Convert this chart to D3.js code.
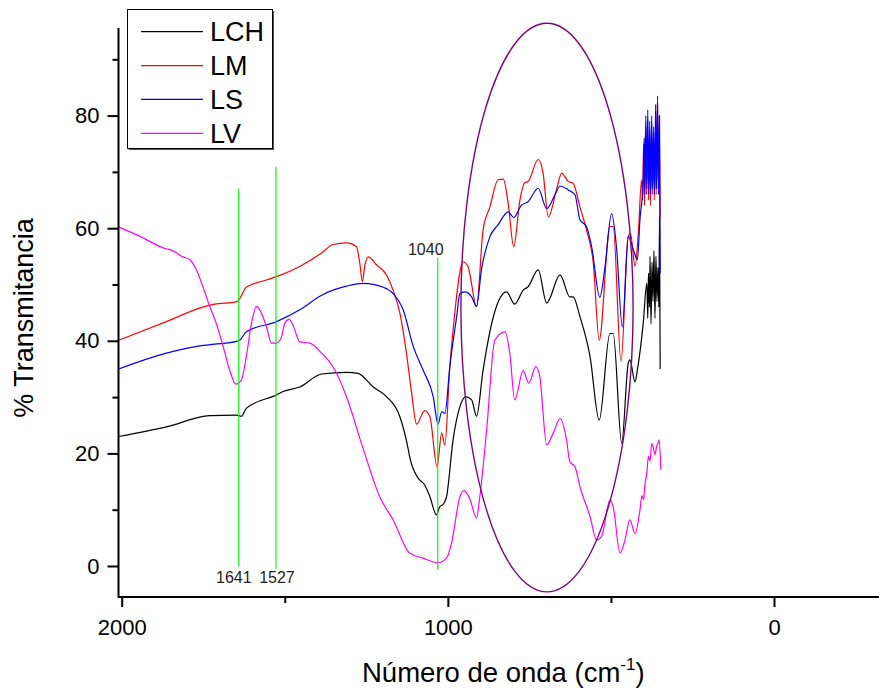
<!DOCTYPE html>
<html>
<head>
<meta charset="utf-8">
<script src="https://cdn.jsdelivr.net/npm/d3@7"></script>
<style>
  body { margin: 0; background: #fff; }
  svg { font-family: "Liberation Sans", Arial, sans-serif; }
</style>
</head>
<body>
<div id="chart"></div>
<script>
// FTIR spectra, [wavenumber cm-1, % transmittance]
var seriesNames = ["LCH", "LM", "LS", "LV"];
var seriesColors = ["#000000", "#ff0000", "#0000ff", "#ff00ff"];

var lch = [[2009,23.0],[1863,24.7],[1730,26.7],[1648,26.8],[1633,26.6],[1618,28.0],[1525,30.4],[1505,31.0],
  [1454,31.8],[1387,34.1],[1311,34.4],[1275,34.2],[1229,31.8],[1188,30.1],[1147,26.5],[1122,20.9],[1117,19.4],
  [1091,15.6],[1071,14.4],[1055,12.3],[1035,9.1],[1025,10.5],[1014,11.0],[1004,12.3],[984,22.4],[963,28.3],
  [945,30.1],[927,29.5],[912,26.6],[892,34.8],[856,45.2],[820,48.7],[795,46.5],[769,49.0],[754,49.6],[723,52.6],
  [697,46.7],[656,51.7],[626,47.8],[616,47.8],[595,44.3],[564,37.2],[536,25.9],[503,41.3],[493,41.3],[467,21.8],
  [447,36.0],[442,36.6],[426,32.7],[419,34.8],[401,43.1],[390,50.2],[387,44],[385,52],[382,46],[380,55],[377,43],
  [374,54],[371,47],[368,56],[365,44],[362,55],[359,47],[356,53],[353,46],[351,62],[349,35]];

var lm = [[2009,40.1],[1863,43.4],[1761,45.8],[1715,46.5],[1648,46.9],[1638,47.5],[1618,49.5],[1556,50.8],
  [1525,51.4],[1454,53.2],[1387,55.6],[1352,57.1],[1311,57.4],[1280,56.7],[1270,53.8],[1262,50.5],[1255,53.2],
  [1244,54.9],[1219,53.5],[1188,51.7],[1168,49.0],[1147,44.9],[1127,37.8],[1111,30.7],[1096,25.2],[1071,27.6],
  [1055,26.5],[1033,17.6],[1019,23.6],[1009,21.5],[994,35.4],[984,41.9],[953,54.0],[938,53.2],[933,52.0],
  [912,46.1],[892,59.7],[871,63.8],[846,68.6],[830,68.7],[815,64.4],[798,56.7],[779,65.0],[764,68.1],[754,68.3],
  [723,72.2],[708,69.8],[692,62.0],[667,66.8],[651,69.8],[631,68.3],[616,68.0],[595,63.8],[575,59.7],[554,53.8],
  [536,40.1],[503,60.3],[493,60.3],[469,36.3],[447,58.5],[440,59.1],[426,53.2],[416,59.1],[406,68.6],[403,65],
  [400,75],[397,64],[394,78],[391,66],[388,79],[385,65],[382,77],[379,64],[376,76],[373,66],[370,77],[367,65],
  [364,76],[361,66],[358,82],[355,67],[352,80],[349,62]];

var ls = [[2009,35.0],[1863,37.8],[1761,39.1],[1715,39.4],[1648,39.9],[1638,40.1],[1618,41.6],[1525,43.4],
  [1454,45.5],[1387,48.1],[1352,49.0],[1311,49.7],[1260,50.2],[1198,49.5],[1168,48.4],[1137,45.5],[1106,39.0],
  [1076,34.8],[1045,30.1],[1030,25.2],[1019,27.4],[1009,27.1],[994,35.4],[973,44.3],[963,48.4],[948,48.7],
  [927,47.8],[912,46.1],[897,52.6],[871,58.5],[846,60.6],[815,62.9],[798,61.9],[774,64.1],[754,64.7],[723,67.1],
  [697,63.5],[672,65.9],[656,67.5],[631,66.8],[610,65.9],[595,61.5],[575,60.3],[559,56.7],[534,47.7],[518,53.2],
  [498,62.6],[483,56.7],[465,42.5],[447,58.5],[429,55.8],[419,54.4],[411,61.5],[401,68.6],[398,76],[396,66],
  [393,80],[390,67],[387,81],[384,66],[381,79],[378,66],[375,80],[372,67],[369,78],[366,66],[363,82],[360,67],
  [357,83.5],[354,66],[351,80],[349,52]];

var lv = [[2009,60.2],[1945,58.6],[1868,56.4],[1848,56.1],[1812,54.9],[1791,54.4],[1771,52.6],[1751,49.6],
  [1730,46.1],[1710,43.1],[1689,39.0],[1669,34.8],[1650,32.3],[1633,33.0],[1618,37.2],[1602,43.1],[1587,46.1],
  [1577,45.5],[1556,42.5],[1541,39.6],[1525,39.6],[1510,40.7],[1500,43.1],[1487,43.8],[1475,42.8],[1454,39.8],
  [1423,39.6],[1387,37.8],[1352,35.4],[1311,30.1],[1260,20.9],[1209,12.3],[1168,8.2],[1117,2.3],[1076,1.4],
  [1030,0.6],[1004,1.4],[989,4.0],[963,12.3],[951,13.4],[933,12.0],[912,8.5],[902,12.3],[881,24.2],[856,40.1],
  [825,41.6],[810,37.8],[795,29.5],[769,34.7],[752,32.5],[730,35.4],[718,33.6],[697,21.5],[677,23.6],[656,26.2],
  [636,22.4],[626,18.5],[610,17.6],[595,14.1],[564,8.8],[544,4.6],[529,5.2],[503,11.7],[493,10.5],[472,2.3],
  [457,4.6],[442,8.2],[426,5.8],[411,9.9],[405,12.5],[400,11.8],[395,14.8],[390,16.5],[385,19.5],[380,18.6],
  [375,21.8],[370,21.0],[365,19.8],[360,21.2],[355,21.9],[352,22.4],[347,17.1]];

var seriesData = [lch, lm, ls, lv];

var xMajorTicks = [2000, 1000, 0];
var xMinorTicks = [1500, 500];
var yMajorTicks = [0, 20, 40, 60, 80];
var yMinorTicks = [10, 30, 50, 70, 90];

// marked bands: label, marker position (wavenumber), line top/bottom (%T)
var bandLabels = ["1641", "1527", "1040"];
var bandWn = [1641, 1527, 1031];
var bandTop = [67.0, 70.9, 54.7];
var bandBottom = [-0.1, -0.5, -0.7];

// highlighted region (ellipse) in data units
var ellipseCenter = [696, 45.9];
var ellipseRadius = [264, 50.5];

var width = 879, height = 688;

var x = d3.scaleLinear().domain([2000, 0]).range([121.7, 774]);
var y = d3.scaleLinear().domain([0, 80]).range([566, 115.6]);

var svg = d3.select("#chart").append("svg")
    .attr("width", width)
    .attr("height", height);

// spectra
var line = d3.line()
    .x(function(d) { return x(d[0]); })
    .y(function(d) { return y(d[1]); })
    .curve(d3.curveMonotoneX);

svg.selectAll(".spec")
  .data(seriesData)
  .join("path")
    .attr("class", "spec")
    .attr("d", line)
    .attr("fill", "none")
    .attr("stroke", function(d, i) { return seriesColors[i]; })
    .attr("stroke-width", 1.2)
    .attr("stroke-linejoin", "round");

// green band markers
svg.selectAll(".band")
  .data(bandWn)
  .join("line")
    .attr("class", "band")
    .attr("x1", function(d) { return x(d); })
    .attr("x2", function(d) { return x(d); })
    .attr("y1", function(d, i) { return y(bandTop[i]); })
    .attr("y2", function(d, i) { return y(bandBottom[i]); })
    .attr("stroke", "#00ff00")
    .attr("stroke-width", 1.2);

var labelDx = [-5, 1, -12];
svg.selectAll(".bandlabel")
  .data(bandLabels)
  .join("text")
    .attr("class", "bandlabel")
    .attr("x", function(d, i) { return x(bandWn[i]) + labelDx[i]; })
    .attr("y", function(d, i) { return i < 2 ? y(-3.0) : y(bandTop[i]) - 3; })
    .attr("text-anchor", "middle")
    .style("font-size", "16px")
    .attr("fill", "#222")
    .text(function(d) { return d; });

// ellipse
svg.append("ellipse")
    .attr("cx", x(ellipseCenter[0]))
    .attr("cy", y(ellipseCenter[1]))
    .attr("rx", x(0) - x(ellipseRadius[0]))
    .attr("ry", y(0) - y(ellipseRadius[1]))
    .attr("fill", "none")
    .attr("stroke", "#800080")
    .attr("stroke-width", 1.4);

// axes
var axisY = 597, axisX = 118.5;

var gx = svg.append("g").attr("transform", "translate(0," + axisY + ")");
gx.call(d3.axisBottom(x).tickValues(xMajorTicks).tickSize(10).tickPadding(12).tickFormat(d3.format("d")));
gx.append("g").call(d3.axisBottom(x).tickValues(xMinorTicks).tickSize(6).tickFormat(""));

var gy = svg.append("g").attr("transform", "translate(" + axisX + ",0)");
gy.call(d3.axisLeft(y).tickValues(yMajorTicks).tickSize(11).tickPadding(8));
gy.append("g").call(d3.axisLeft(y).tickValues(yMinorTicks).tickSize(6).tickFormat(""));

svg.selectAll(".domain").remove();
svg.selectAll(".tick line").attr("stroke", "#000").attr("stroke-width", 2);
svg.selectAll(".tick text").style("font-size", "22px").attr("fill", "#000")
    .style("font-family", "'Liberation Sans', Arial, sans-serif");

svg.append("line")
    .attr("x1", axisX).attr("x2", width)
    .attr("y1", axisY).attr("y2", axisY)
    .attr("stroke", "#000").attr("stroke-width", 2);
svg.append("line")
    .attr("x1", axisX).attr("x2", axisX)
    .attr("y1", 28).attr("y2", axisY + 1)
    .attr("stroke", "#000").attr("stroke-width", 2);

// axis titles
var xt = svg.append("text")
    .attr("x", 362)
    .attr("y", 682)
    .style("font-size", "27.5px");
xt.append("tspan").text("Número de onda (cm");
xt.append("tspan").attr("dy", -12).style("font-size", "17px").text("-1");
xt.append("tspan").attr("dy", 12).text(")");

svg.append("text")
    .attr("transform", "translate(33,318) rotate(-90)")
    .attr("text-anchor", "middle")
    .style("font-size", "27px")
    .text("% Transmitancia");

// legend
var lg = svg.append("g");
lg.append("rect")
    .attr("x", 129).attr("y", 11)
    .attr("width", 145).attr("height", 139)
    .attr("fill", "#555");
lg.append("rect")
    .attr("x", 127.5).attr("y", 9.5)
    .attr("width", 145).attr("height", 139)
    .attr("fill", "#fff")
    .attr("stroke", "#000")
    .attr("stroke-width", 1);

var legendY = [31.7, 65.7, 99.3, 133.3];
lg.selectAll(".lgline")
  .data(seriesNames)
  .join("line")
    .attr("x1", 141).attr("x2", 203)
    .attr("y1", function(d, i) { return legendY[i]; })
    .attr("y2", function(d, i) { return legendY[i]; })
    .attr("stroke", function(d, i) { return seriesColors[i]; })
    .attr("stroke-width", 1.2);
lg.selectAll(".lgtext")
  .data(seriesNames)
  .join("text")
    .attr("x", 210)
    .attr("y", function(d, i) { return legendY[i] + 9.5; })
    .style("font-size", "27px")
    .text(function(d) { return d; });
</script>
</body>
</html>
